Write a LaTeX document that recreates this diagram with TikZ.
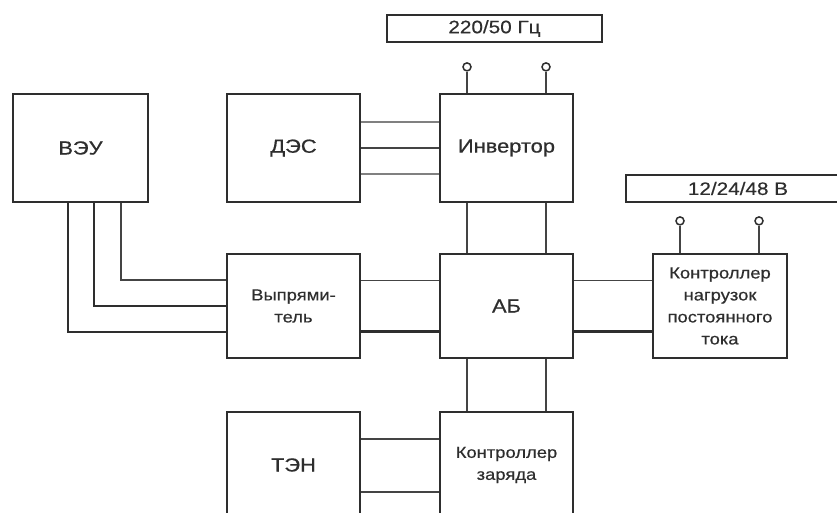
\documentclass[tikz,border=0pt]{standalone}
\usepackage{fontspec}
\setmainfont{Liberation Sans}[FakeStretch=1.15, FakeBold=0.5]
\usepackage{tikz}
\usetikzlibrary{positioning}
\definecolor{ink}{HTML}{2E2E2E}
\definecolor{wire}{HTML}{444444}

\begin{document}
\begin{tikzpicture}[x=1pt, y=1pt,
  blk/.style={draw=ink, line width=2.2pt, fill=white, minimum width=133pt, minimum height=104pt,
    inner sep=0pt, align=center, text=ink, font=\fontsize{19}{22}\selectfont},
  small/.style={font=\fontsize{16}{22}\selectfont},
  bar/.style={draw=ink, line width=2.2pt, minimum height=27pt, inner sep=0pt, text=ink,
    font=\fontsize{18}{20}\selectfont},
  term/.style={circle, draw=ink, line width=1.5pt, fill=white, minimum size=8pt, inner sep=0pt},
  wire/.style={draw=wire, line width=1.8pt},
  bus/.style={draw=ink, line width=2.8pt},
  lite/.style={draw=black!50, line width=1.6pt}]
  \useasboundingbox (0,0) rectangle (837,513);
  \clip (0,0) rectangle (837,513);
  % blocks
  \node[blk, minimum width=135pt, minimum height=108pt] (veu) at (80.5,365) {ВЭУ};
  \node[blk, minimum height=108pt] (des) at (293.5,365) {ДЭС};
  \node[blk, minimum height=108pt] (inv) at (506.5,365) {Инвертор};
  \node[blk, small] (rect) at (293.5,207) {Выпрями-\\тель};
  \node[blk] (ab) at (506.5,207) {АБ};
  \node[blk, small, minimum width=134pt] (kn) at (720,207) {Контроллер\\нагрузок\\постоянного\\тока};
  \node[blk, minimum height=106pt] (ten) at (293.5,48) {ТЭН};
  \node[blk, small, minimum height=106pt] (kz) at (506.5,48) {Контроллер\\заряда};
  \node[bar, minimum width=215pt] (ac) at (494.5,484.5) {220/50 Гц};
  \node[bar, minimum width=224pt] (dc) at (738,324.5) {12/24/48 В};
  % terminals
  \foreach \s/\n in {-39.5/a,39.5/b}{
    \node[term] (ti\n) at ([xshift=\s pt, yshift=26pt]inv.north) {};
    \draw[wire] (ti\n) -- (ti\n |- inv.north);
  }
  \foreach \s/\n in {-40/a,39/b}{
    \node[term] (tk\n) at ([xshift=\s pt, yshift=32pt]kn.north) {};
    \draw[wire] (tk\n) -- (tk\n |- kn.north);
  }
  % links
  \draw[wire] (des.east) -- (inv.west);
  \foreach \d in {26,-26}{\draw[lite] ([yshift=\d pt]des.east) -- ([yshift=\d pt]inv.west);}
  \foreach \d in {-39.5,39.5}{
    \draw[wire] ([xshift=\d pt]inv.south) -- ([xshift=\d pt]ab.north);
    \draw[wire] ([xshift=\d pt]ab.south) -- ([xshift=\d pt]kz.north);
  }
  \draw[wire] ([xshift=40.5pt]veu.south) |- ([yshift=26pt]rect.west);
  \draw[bus] ([xshift=13.5pt]veu.south) |- (rect.west);
  \draw[bus] ([xshift=-12.5pt]veu.south) |- ([yshift=-26pt]rect.west);
  \draw[wire] ([yshift=25.5pt]rect.east) -- ([yshift=25.5pt]ab.west);
  \draw[bus] ([yshift=-25.5pt]rect.east) -- ([yshift=-25.5pt]ab.west);
  \draw[wire] ([yshift=25.5pt]ab.east) -- ([yshift=25.5pt]kn.west);
  \draw[bus] ([yshift=-25.5pt]ab.east) -- ([yshift=-25.5pt]kn.west);
  \draw[wire] ([yshift=26pt]ten.east) -- ([yshift=26pt]kz.west);
  \draw[wire] ([yshift=-27pt]ten.east) -- ([yshift=-27pt]kz.west);
\end{tikzpicture}
\end{document}
